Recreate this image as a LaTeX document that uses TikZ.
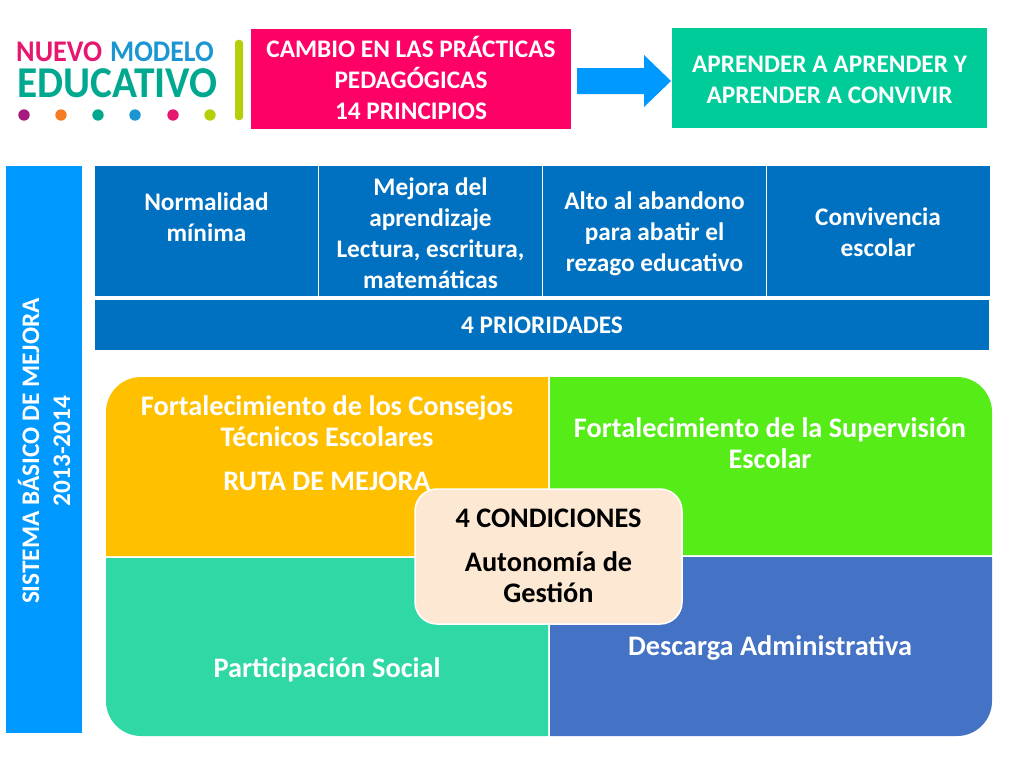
\documentclass[tikz,border=0pt]{standalone}
\usepackage{fontspec}
\setmainfont{Carlito}
\usetikzlibrary{calc}
\definecolor{pinkbox}{HTML}{FF0066}
\definecolor{greenbox}{HTML}{00CC99}
\definecolor{skyblue}{HTML}{0099FF}
\definecolor{prioblue}{HTML}{0070C0}
\definecolor{amber}{HTML}{FFC000}
\definecolor{lime}{HTML}{55EC18}
\definecolor{mint}{HTML}{30D8A5}
\definecolor{slateblue}{HTML}{4472C4}
\definecolor{cream}{HTML}{FDE9D3}
\definecolor{logoteal}{HTML}{00A88F}
\definecolor{logopink}{HTML}{E6176F}
\definecolor{logoblue}{HTML}{1B96D3}
\definecolor{logolime}{HTML}{B5CF0B}
\definecolor{logopurple}{HTML}{A6197F}
\definecolor{logoorange}{HTML}{F57B20}
\tikzset{
 box/.style={inner sep=0, align=center, text=white, font=\fontsize{25.3}{31}\selectfont\bfseries},
 prio/.style={box, fill=prioblue, minimum width=223, minimum height=130},
 big/.style={inner sep=0, align=center, text=white, font=\fontsize{28.3}{31}\selectfont\bfseries},
 logo/.style={inner sep=0, anchor=base west},
}
\begin{document}
\begin{tikzpicture} [x=1pt, y=-1pt]
\useasboundingbox (0,0) rectangle (1024,768);
% logo
\node[logo, text=logopink, xscale=.94, font=\fontsize{30}{30}\selectfont\bfseries] (nuevo) at (16,62) {NUEVO};
\node[logo, text=logoblue, xscale=.92, font=\fontsize{30}{30}\selectfont\bfseries] (modelo) at (110,62) {MODELO};
\node[logo, text=logoteal, xscale=.94, font=\fontsize{44}{44}\selectfont\bfseries] (educativo) at (17,97) {EDUCATIVO};
\foreach \x/\c in {24/logopurple, 61/logoorange, 98/logoteal, 135/logoblue, 173/logopink, 210/logolime} {
 \fill[\c] (\x,115) circle (5.7);
}
\fill[logolime, rounded corners=3] (235,40) rectangle (243,120);
% top boxes
\node[box, fill=pinkbox, minimum width=320, minimum height=100] (cambio) at (411,79) {};
\node[box] (cambiotxt) at (411,78) {CAMBIO EN LAS PRÁCTICAS\\PEDAGÓGICAS\\14 PRINCIPIOS};
\node[box, fill=greenbox, minimum width=315, minimum height=100] (aprender) at (829.5,78) {};
\node[box] (aprendertxt) at (829.5,80) {APRENDER A APRENDER Y\\APRENDER A CONVIVIR};
\fill[skyblue] (577,68) -- (644,68) -- (644,55) -- (671,81) -- (644,107) -- (644,94) -- (577,94) -- cycle;
% left bar
\node[box, fill=skyblue, minimum width=76, minimum height=567] (barra) at (44,449.5) {};
\node[box, rotate=90] (sistema) at (44,451) {SISTEMA BÁSICO DE MEJORA\\2013-2014};
% prioridades
\foreach \n/\x/\y/\t in {1/206.5/217.5/{Normalidad\\mínima}, 2/430.5/233/{Mejora del\\aprendizaje\\Lectura, escritura,\\matemáticas}, 3/654.5/234/{Alto al abandono\\para abatir el\\rezago educativo}, 4/878/232.5/{Convivencia\\escolar}} {
 \node[prio] (p\n) at (\x,231) {};
 \node[box] (t\n) at (\x,\y) {\t};
}
\node[box, fill=prioblue, minimum width=894, minimum height=50] (prioridades) at (542,325) {4 PRIORIDADES};
% condiciones
\fill[amber] (106,556) [rounded corners=35] -- (106,377) [sharp corners] -- (548,377) -- (548,556) -- cycle;
\fill[lime] (550,555) -- (550,377) [rounded corners=35] -- (992,377) [sharp corners] -- (992,555) -- cycle;
\fill[mint] (106,558) [rounded corners=35] -- (106,736) [sharp corners] -- (548,736) -- (548,558) -- cycle;
\fill[slateblue] (550,557) -- (992,557) [rounded corners=35] -- (992,736) [sharp corners] -- (550,736) -- cycle;
\node[big] (consejos) at (327,421.5) {Fortalecimiento de los Consejos\\Técnicos Escolares};
\node[big] (ruta) at (327,481) {RUTA DE MEJORA};
\node[big] (supervision) at (770,443.5) {Fortalecimiento de la Supervisión\\Escolar};
\node[big] (participacion) at (327,670) {Participación Social};
\node[big] (descarga) at (770,648) {Descarga Administrativa};
\draw[white, fill=cream, line width=1.5, rounded corners=22] (415,489) rectangle (682,624);
\node[big, text=black] (condiciones) at (548.5,518) {4 CONDICIONES};
\node[big, text=black] (autonomia) at (548.5,577.5) {Autonomía de\\Gestión};
\end{tikzpicture}
\end{document}
